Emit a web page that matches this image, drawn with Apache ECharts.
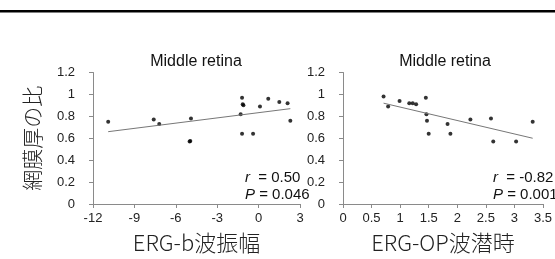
<!DOCTYPE html>
<html>
<head>
<meta charset="utf-8">
<script src="https://cdn.jsdelivr.net/npm/echarts@6/dist/echarts.min.js"></script>
<style>
  html, body { margin: 0; padding: 0; background: #fff; }
  #chart { width: 555px; height: 259px; }
</style>
</head>
<body>
<div id="chart"></div>
<script>
// 左: ERG-b波振幅 vs 網膜厚の比
var bAmp = [-10.9, -7.6, -7.2, -4.9, -5.0, -4.95, -1.2, -1.15, -1.1, -1.3, -1.2, -0.4, 0.1, 0.7, 1.5, 2.1, 2.3];
var bRatio = [0.75, 0.77, 0.73, 0.78, 0.57, 0.575, 0.97, 0.91, 0.90, 0.82, 0.64, 0.64, 0.89, 0.96, 0.93, 0.92, 0.76];
var bFitX = [-10.9, 2.3];
var bFitY = [0.66, 0.87];

// 右: ERG-OP波潜時 vs 網膜厚の比
var opLat = [0.71, 0.79, 0.99, 1.16, 1.22, 1.28, 1.45, 1.46, 1.47, 1.5, 1.83, 1.88, 2.23, 2.59, 2.63, 3.03, 3.32];
var opRatio = [0.98, 0.89, 0.94, 0.92, 0.92, 0.91, 0.97, 0.82, 0.76, 0.64, 0.73, 0.64, 0.77, 0.78, 0.57, 0.57, 0.75];
var opFitX = [0.71, 3.32];
var opFitY = [0.92, 0.60];

var yTicks = { min: 0, max: 1.2, interval: 0.2 };
var bTicks = { min: -12, max: 3, interval: 3 };
var opTicks = { min: 0, max: 3.5, interval: 0.5 };

function pairs(xs, ys) {
  return xs.map(function (x, i) { return [x, ys[i]]; });
}

var chart = echarts.init(document.getElementById('chart'));

var axisCommon = {
  axisLine: { show: true, onZero: false, lineStyle: { color: '#8a8a8a', width: 1 } },
  axisTick: { show: true, inside: false, length: 4, lineStyle: { color: '#8a8a8a' } },
  splitLine: { show: false },
  axisLabel: { color: '#222', fontSize: 13, fontFamily: 'Liberation Sans' }
};

function xAx(idx, t, name) {
  return Object.assign({}, axisCommon, {
    type: 'value', gridIndex: idx, min: t.min, max: t.max, interval: t.interval,
    axisLabel: Object.assign({}, axisCommon.axisLabel, { margin: 8 }),
    name: name, nameLocation: 'middle', nameGap: 28,
    nameTextStyle: { fontFamily: 'Noto Sans CJK JP', fontSize: 22, color: '#222', fontWeight: 300 }
  });
}

function yAx(idx, name) {
  var a = Object.assign({}, axisCommon, {
    type: 'value', gridIndex: idx, min: yTicks.min, max: yTicks.max, interval: yTicks.interval,
    axisLabel: Object.assign({}, axisCommon.axisLabel, { margin: 18 })
  });
  if (name) {
    a.name = name;
    a.nameLocation = 'middle';
    a.nameRotate = 90;
    a.nameGap = 50;
    a.nameTextStyle = { fontFamily: 'Noto Sans CJK JP', fontSize: 21, color: '#222', fontWeight: 300 };
  }
  return a;
}

var titleFont = { fontFamily: 'Liberation Sans', fontSize: 16, fontWeight: 'normal', color: '#111' };
var noteStyle = {
  fontFamily: 'Liberation Sans', fontSize: 15, fontWeight: 'normal', color: '#111',
  rich: { i: { fontFamily: 'Liberation Sans', fontSize: 15, fontStyle: 'italic', color: '#111' } }
};

option = {
  backgroundColor: '#fff',
  animation: false,
  title: [
    { text: 'Middle retina', left: 196, top: 54, textAlign: 'center', textStyle: titleFont, padding: 0 },
    { text: 'Middle retina', left: 445, top: 54, textAlign: 'center', textStyle: titleFont, padding: 0 },
    { text: '{i|r}  = 0.50', left: 245, top: 170, textStyle: noteStyle, padding: 0 },
    { text: '{i|P} = 0.046', left: 245, top: 187, textStyle: noteStyle, padding: 0 },
    { text: '{i|r}  = -0.82', left: 493, top: 170, textStyle: noteStyle, padding: 0 },
    { text: '{i|P} = 0.001', left: 493, top: 187, textStyle: noteStyle, padding: 0 }
  ],
  graphic: [
    { type: 'rect', shape: { x: 0, y: 10, width: 555, height: 2.5 }, style: { fill: '#000' } }
  ],
  grid: [
    { left: 93, top: 72.5, width: 207, height: 131.5 },
    { left: 343, top: 72.5, width: 204.5, height: 131.5 }
  ],
  xAxis: [xAx(0, bTicks, 'ERG-b波振幅'), xAx(1, opTicks, 'ERG-OP波潜時')],
  yAxis: [yAx(0, '網膜厚の比'), yAx(1, null)],
  series: [
    {
      type: 'line', xAxisIndex: 0, yAxisIndex: 0, data: pairs(bFitX, bFitY),
      symbol: 'none', lineStyle: { color: '#777', width: 1 }, silent: true
    },
    {
      type: 'scatter', xAxisIndex: 0, yAxisIndex: 0, data: pairs(bAmp, bRatio),
      symbolSize: 4, itemStyle: { color: '#000' }
    },
    {
      type: 'line', xAxisIndex: 1, yAxisIndex: 1, data: pairs(opFitX, opFitY),
      symbol: 'none', lineStyle: { color: '#777', width: 1 }, silent: true
    },
    {
      type: 'scatter', xAxisIndex: 1, yAxisIndex: 1, data: pairs(opLat, opRatio),
      symbolSize: 4, itemStyle: { color: '#000' }
    }
  ]
};

chart.setOption(option);
</script>
</body>
</html>
